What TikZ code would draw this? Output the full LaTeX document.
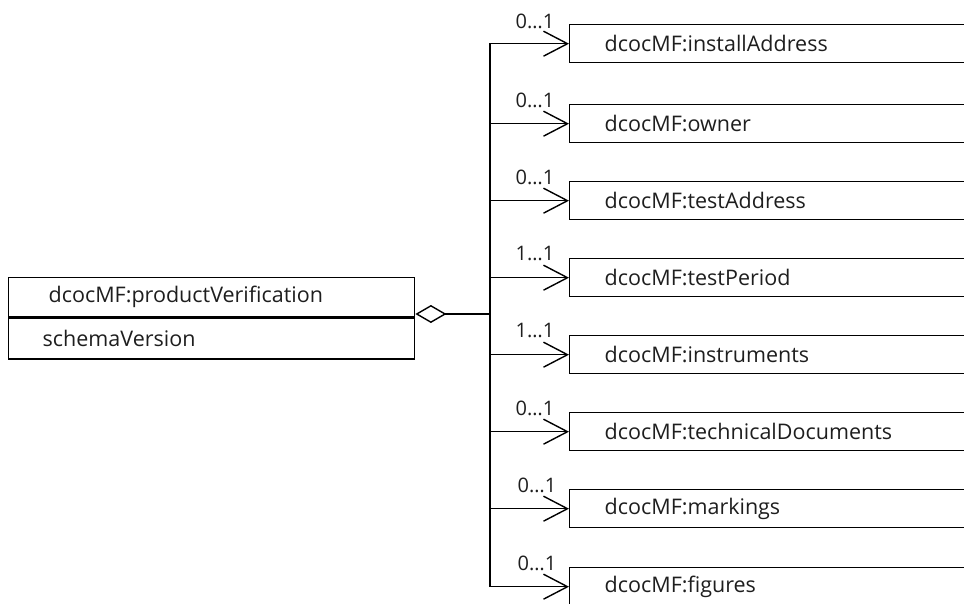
\documentclass[tikz,border=0pt]{standalone}
\usepackage{fontspec}
\setmainfont{Open Sans}
\usetikzlibrary{arrows.meta}
\definecolor{ink}{HTML}{1E1E1E}
\tikzset{
  x=1pt, y=-1pt,
  umlline/.style={draw=black, line width=1.4pt},
  classbox/.style={umlline, rectangle, anchor=north west, minimum height=39pt,
    text width=326pt, inner xsep=40pt, inner ysep=0pt, align=left,
    font=\fontsize{21.5}{24}\selectfont, text=ink},
  attrbox/.style={classbox, text width=338pt, inner xsep=34pt, minimum height=41pt},
  partbox/.style={umlline, rectangle, anchor=north west, minimum height=38pt,
    text width=400pt, inner xsep=35pt, inner ysep=0pt, align=left,
    font=\fontsize{21.5}{24}\selectfont, text=ink},
  mult/.style={font=\fontsize{20}{22}\selectfont, text=ink, inner sep=0pt},
  assoc/.style={umlline, -{Straight Barb[length=24pt, width=25pt, line width=1.4pt]}},
  aggr/.style={umlline, {Diamond[open, length=31pt, width=18pt, line width=1.4pt]}-},
}
\begin{document}
\begin{tikzpicture}
\useasboundingbox (0,0) rectangle (964,604);
\clip (0,0) rectangle (964,604);

% aggregate class with its attribute compartment
\node[classbox] (pvhead) at (8,277) {dcocMF:productVerification};
\node[attrbox, anchor=north west] (pvattr) at (pvhead.south west) {schemaVersion};

% parts
\node[partbox] (p1) at (569,24)  {dcocMF:installAddress};
\node[partbox] (p2) at (569,104) {dcocMF:owner};
\node[partbox] (p3) at (569,181) {dcocMF:testAddress};
\node[partbox] (p4) at (569,258) {dcocMF:testPeriod};
\node[partbox] (p5) at (569,335) {dcocMF:instruments};
\node[partbox] (p6) at (569,412) {dcocMF:technicalDocuments};
\node[partbox] (p7) at (569,489) {dcocMF:markings};
\node[partbox] (p8) at (569,567) {dcocMF:figures};

% junction of the tree
\coordinate (j) at (490,314);
\draw[aggr] (j -| pvhead.east) -- (j);

\foreach \n in {1,...,8}{
  \draw[assoc] (j) |- (p\n.west);
}

% multiplicities
\node[mult] (m1) at (535,21)  {0…1};
\node[mult] (m2) at (535,100) {0…1};
\node[mult] (m3) at (535,177) {0…1};
\node[mult] (m4) at (535,254) {1…1};
\node[mult] (m5) at (535,331) {1…1};
\node[mult] (m6) at (535,408) {0…1};
\node[mult] (m7) at (537,485) {0…1};
\node[mult] (m8) at (537,563) {0…1};
\end{tikzpicture}
\end{document}
